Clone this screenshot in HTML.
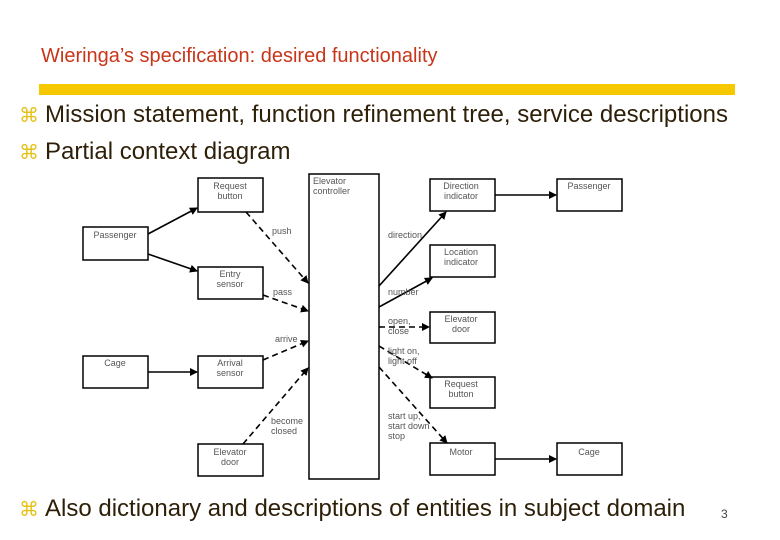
<!DOCTYPE html>
<html><head><meta charset="utf-8"><style>
body{margin:0;width:780px;height:540px;background:#fff;overflow:hidden;position:relative;font-family:"Liberation Sans",sans-serif}
.t{position:absolute;left:41px;top:45px;font-size:20px;color:#c8361a;white-space:nowrap}
.bar{position:absolute;left:39px;top:84px;width:696px;height:11px;background:#f5c800}
.b{position:absolute;left:19px;font-size:24px;color:#2e1f08;white-space:nowrap}
.b span{color:#e5c21a;font-size:20px;margin-right:6px}
.n{position:absolute;left:721px;top:507px;font-size:12px;color:#444}
svg{position:absolute;left:0;top:0}
svg text{font-family:"Liberation Sans",sans-serif;font-size:9px;fill:#555}
</style></head><body>
<div class="t">Wieringa’s specification: desired functionality</div>
<div class="bar"></div>
<div class="b" style="top:101px"><span>⌘</span>Mission statement, function refinement tree, service descriptions</div>
<div class="b" style="top:138px"><span>⌘</span>Partial context diagram</div>
<div class="b" style="top:495px"><span>⌘</span>Also dictionary and descriptions of entities in subject domain</div>
<div class="n">3</div>
<svg width="780" height="540">
<defs><marker id="a" markerWidth="8" markerHeight="8" refX="7" refY="4" orient="auto" markerUnits="userSpaceOnUse"><path d="M0,0L8,4L0,8z" fill="#000"/></marker></defs>
<g fill="#fff" stroke="#000" stroke-width="1.5">
<rect x="83" y="227" width="65" height="33"/>
<rect x="198" y="178" width="65" height="34"/>
<rect x="198" y="267" width="65" height="32"/>
<rect x="83" y="356" width="65" height="32"/>
<rect x="198" y="356" width="65" height="32"/>
<rect x="198" y="444" width="65" height="32"/>
<rect x="309" y="174" width="70" height="305"/>
<rect x="430" y="179" width="65" height="32"/>
<rect x="557" y="179" width="65" height="32"/>
<rect x="430" y="245" width="65" height="32"/>
<rect x="430" y="312" width="65" height="31"/>
<rect x="430" y="377" width="65" height="31"/>
<rect x="430" y="443" width="65" height="32"/>
<rect x="557" y="443" width="65" height="32"/>
</g>
<g stroke="#000" stroke-width="1.6" fill="none" marker-end="url(#a)">
<line x1="148" y1="234" x2="197" y2="208"/>
<line x1="148" y1="254" x2="197" y2="271"/>
<line x1="148" y1="372" x2="197" y2="372"/>
<line x1="379" y1="286" x2="446" y2="212"/>
<line x1="379" y1="307" x2="432" y2="278"/>
<line x1="495" y1="195" x2="556" y2="195"/>
<line x1="495" y1="459" x2="556" y2="459"/>
</g>
<g stroke="#000" stroke-width="1.6" fill="none" stroke-dasharray="6,4" marker-end="url(#a)">
<line x1="246" y1="212" x2="308" y2="283"/>
<line x1="263" y1="295" x2="308" y2="311"/>
<line x1="263" y1="360" x2="308" y2="341"/>
<line x1="243" y1="444" x2="308" y2="368"/>
<line x1="379" y1="327" x2="429" y2="327"/>
<line x1="379" y1="346" x2="432" y2="378"/>
<line x1="379" y1="367" x2="447" y2="443"/>
</g>
<g text-anchor="middle">
<text x="230" y="189">Request</text><text x="230" y="199">button</text>
<text x="115" y="238">Passenger</text>
<text x="230" y="277">Entry</text><text x="230" y="287">sensor</text>
<text x="115" y="366">Cage</text>
<text x="230" y="366">Arrival</text><text x="230" y="376">sensor</text>
<text x="230" y="455">Elevator</text><text x="230" y="465">door</text>
<text x="461" y="189">Direction</text><text x="461" y="199">indicator</text>
<text x="589" y="189">Passenger</text>
<text x="461" y="255">Location</text><text x="461" y="265">indicator</text>
<text x="461" y="322">Elevator</text><text x="461" y="332">door</text>
<text x="461" y="387">Request</text><text x="461" y="397">button</text>
<text x="461" y="455">Motor</text>
<text x="589" y="455">Cage</text>
</g>
<text x="313" y="184">Elevator</text><text x="313" y="194">controller</text>
<text x="272" y="234">push</text>
<text x="273" y="295">pass</text>
<text x="275" y="342">arrive</text>
<text x="271" y="424">become</text><text x="271" y="434">closed</text>
<text x="388" y="238">direction</text>
<text x="388" y="295">number</text>
<text x="388" y="324">open,</text><text x="388" y="334">close</text>
<text x="388" y="354">light on,</text><text x="388" y="364">light off</text>
<text x="388" y="419">start up,</text><text x="388" y="429">start down</text><text x="388" y="439">stop</text>
</svg>
</body></html>
